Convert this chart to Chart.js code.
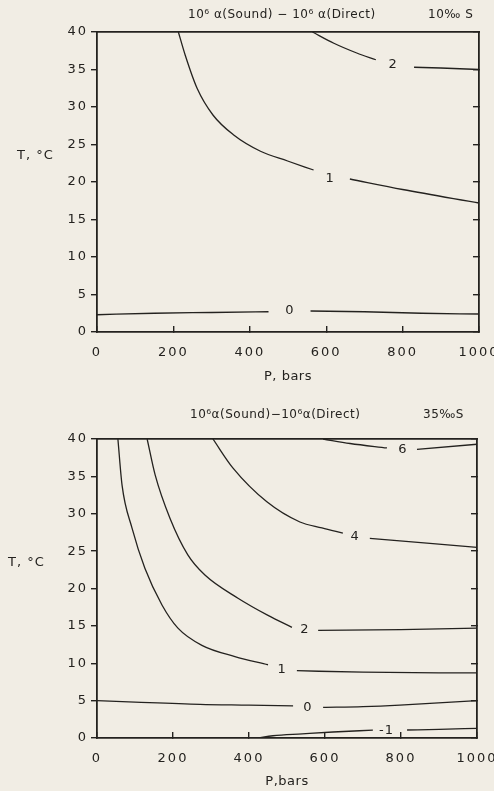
<!DOCTYPE html>
<html>
<head>
<meta charset="utf-8">
<script src="https://cdn.jsdelivr.net/npm/chart.js@4.4.1/dist/chart.umd.min.js"></script>
<style>
  html, body { margin: 0; padding: 0; background: #f1ede4; }
  body { width: 494px; height: 791px; position: relative; overflow: hidden; }
  canvas { position: absolute; left: 0; }
  #topChart { top: 0; }
  #bottomChart { top: 390px; }
</style>
</head>
<body>
<canvas id="topChart" width="494" height="390"></canvas>
<canvas id="bottomChart" width="494" height="401"></canvas>
<script>
const pressureTicks = [0, 200, 400, 600, 800, 1000];
const tempTicks = [0, 5, 10, 15, 20, 25, 30, 35, 40];

// 10 permil S  (null = gap where the contour value is written)
const s10zeroP = [0, 150, 300, 449, null, 559, 700, 850, 1000];
const s10zeroT = [2.3, 2.5, 2.6, 2.7, null, 2.8, 2.7, 2.5, 2.4];
const s10oneP = [213, 231, 262, 304, 357, 428, 499, 567, null, 662, 800, 1000];
const s10oneT = [40, 36.9, 32.5, 28.9, 26.3, 24.1, 22.8, 21.6, null, 20.4, 19.0, 17.2];
const s10twoP = [564, 620, 680, 730, null, 830, 900, 1000];
const s10twoT = [40, 38.5, 37.2, 36.3, null, 35.3, 35.2, 35.0];
const s10LabelText = ['0', '1', '2'];
const s10LabelP = [505, 610, 775];
const s10LabelT = [2.8, 20.5, 35.6];

// 35 permil S
const s35minusOneP = [424, 463, 540, 621, 726, null, 816, 900, 1000];
const s35minusOneT = [0, 0.3, 0.55, 0.8, 1.05, null, 1.07, 1.15, 1.3];
const s35zeroP = [0, 100, 271, 400, 516, null, 595, 700, 797, 1000];
const s35zeroT = [5.0, 4.8, 4.5, 4.4, 4.3, null, 4.1, 4.2, 4.4, 5.0];
const s35oneP = [55, 66, 92, 126, 171, 213, 276, 363, 450, null, 526, 700, 1000];
const s35oneT = [40, 33.8, 28.1, 22.7, 17.8, 14.7, 12.4, 10.9, 9.8, null, 9.0, 8.8, 8.7];
const s35twoP = [132, 153, 192, 239, 284, 371, 450, 513, null, 582, 800, 1000];
const s35twoT = [40, 35.2, 29.4, 24.5, 21.8, 18.7, 16.4, 14.8, null, 14.4, 14.5, 14.7];
const s35fourP = [305, 358, 447, 534, 592, 647, null, 718, 884, 1000];
const s35fourT = [40, 36.1, 31.6, 28.9, 28.1, 27.4, null, 26.7, 26.0, 25.5];
const s35sixP = [595, 666, 763, null, 842, 1000];
const s35sixT = [40, 39.4, 38.8, null, 38.6, 39.3];
const s35LabelText = ['-1', '0', '1', '2', '4', '6'];
const s35LabelP = [762, 555, 487, 547, 679, 805];
const s35LabelT = [0.95, 4.0, 9.2, 14.5, 26.9, 38.6];

const ink = '#24221f';
const fontFamily = '"DejaVu Sans", sans-serif';

function toPoints(P, T) {
    return P.map((p, i) => ({x: p, y: T[i]}));
}

function contour(P, T) {
    return {
        data: toPoints(P, T),
        borderColor: ink,
        borderWidth: 1.3,
        pointRadius: 0,
        fill: false,
        spanGaps: false,
        cubicInterpolationMode: 'monotone'
    };
}

function decorPlugin(opts) {
    return {
        id: 'decor',
        beforeDraw(chart) {
            // wide spacing like the typewriter-ish lettering of the figure
            chart.ctx.letterSpacing = '2px';
        },
        afterDraw(chart) {
            const ctx = chart.ctx;
            const xs = chart.scales.x;
            const ys = chart.scales.y;
            const area = chart.chartArea;
            ctx.save();
            ctx.fillStyle = ink;
            ctx.textBaseline = 'middle';

            // contour values in the gaps
            ctx.textAlign = 'center';
            ctx.font = '13px ' + fontFamily;
            ctx.letterSpacing = '1px';
            opts.labelText.forEach((t, i) => {
                ctx.fillText(t, xs.getPixelForValue(opts.labelP[i]), ys.getPixelForValue(opts.labelT[i]));
            });

            // heading
            ctx.textAlign = 'left';
            ctx.font = '12px ' + fontFamily;
            ctx.letterSpacing = '0.5px';
            ctx.fillText(opts.titleLeft, opts.titleLeftX, area.top - opts.titleOffset);
            ctx.fillText(opts.titleRight, opts.titleRightX, area.top - opts.titleOffset);

            // axis names
            ctx.font = '13px ' + fontFamily;
            ctx.letterSpacing = '1px';
            ctx.fillText('T, °C', opts.yLabelX, area.top + 124);
            ctx.textAlign = 'center';
            ctx.letterSpacing = '0.5px';
            ctx.fillText(opts.xTitle, (area.left + area.right) / 2, area.bottom + opts.xTitleOffset);
            ctx.restore();
        }
    };
}

function makeChart(canvasId, datasets, o) {
    const ctx = document.getElementById(canvasId).getContext('2d');
    return new Chart(ctx, {
        type: 'line',
        data: {datasets: datasets},
        options: {
            responsive: false,
            animation: false,
            events: [],
            layout: {padding: {top: o.padTop, left: 0, right: 0, bottom: 0}},
            plugins: {legend: {display: false}, tooltip: {enabled: false}},
            scales: {
                x: {
                    type: 'linear', position: 'bottom', min: 0, max: 1000,
                    afterBuildTicks: s => { s.ticks = pressureTicks.map(v => ({value: v})); },
                    afterFit: s => { s.height = o.xHeight; s.paddingLeft = 0; s.paddingRight = 0; },
                    grid: {drawOnChartArea: false, drawTicks: true, tickLength: -6, color: ink, lineWidth: 1.4},
                    border: {display: true, color: ink, width: 1.8},
                    ticks: {color: ink, font: {family: fontFamily, size: 13}, padding: 19, maxRotation: 0, autoSkip: false,
                            callback: v => String(v)}
                },
                xTop: {
                    type: 'linear', position: 'top', min: 0, max: 1000,
                    afterFit: s => { s.height = 0; s.paddingLeft = 0; s.paddingRight = 0; },
                    ticks: {display: false},
                    grid: {drawOnChartArea: false, drawTicks: false},
                    border: {display: true, color: ink, width: 1.8}
                },
                y: {
                    type: 'linear', position: 'left', min: 0, max: 40,
                    afterBuildTicks: s => { s.ticks = tempTicks.map(v => ({value: v})); },
                    afterFit: s => { s.width = 97; s.paddingTop = 0; s.paddingBottom = 0; },
                    grid: {drawOnChartArea: false, drawTicks: true, tickLength: 6, color: ink, lineWidth: 1.4},
                    border: {display: true, color: ink, width: 1.8},
                    ticks: {color: ink, font: {family: fontFamily, size: 13}, padding: 3, callback: v => String(v)}
                },
                yRight: {
                    type: 'linear', position: 'right', min: 0, max: 40,
                    afterBuildTicks: s => { s.ticks = tempTicks.map(v => ({value: v})); },
                    afterFit: s => { s.width = o.rightWidth; s.paddingTop = 0; s.paddingBottom = 0; },
                    grid: {drawOnChartArea: false, drawTicks: true, tickLength: -6, color: ink, lineWidth: 1.4},
                    border: {display: true, color: ink, width: 1.8},
                    ticks: {display: false}
                }
            }
        },
        plugins: [decorPlugin(o)]
    });
}

makeChart('topChart', [
    contour(s10zeroP, s10zeroT),
    contour(s10oneP, s10oneT),
    contour(s10twoP, s10twoT)
], {
    padTop: 32, xHeight: 58, rightWidth: 15, xTitle: 'P, bars', xTitleOffset: 45,
    labelText: s10LabelText, labelP: s10LabelP, labelT: s10LabelT,
    titleLeft: '10⁶ α(Sound) − 10⁶ α(Direct)', titleLeftX: 188,
    titleRight: '10‰ S', titleRightX: 428, titleOffset: 17, yLabelX: 17
});

makeChart('bottomChart', [
    contour(s35minusOneP, s35minusOneT),
    contour(s35zeroP, s35zeroT),
    contour(s35oneP, s35oneT),
    contour(s35twoP, s35twoT),
    contour(s35fourP, s35fourT),
    contour(s35sixP, s35sixT)
], {
    padTop: 49, xHeight: 53, rightWidth: 17, xTitle: 'P,bars', xTitleOffset: 44,
    labelText: s35LabelText, labelP: s35LabelP, labelT: s35LabelT,
    titleLeft: '10⁶α(Sound)−10⁶α(Direct)', titleLeftX: 190,
    titleRight: '35‰S', titleRightX: 423, titleOffset: 24, yLabelX: 8
});
</script>
</body>
</html>
